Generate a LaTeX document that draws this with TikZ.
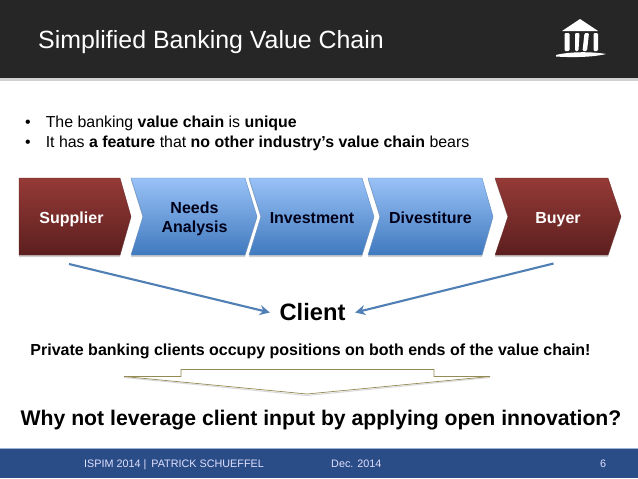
\documentclass[tikz,border=0pt]{standalone}
\usepackage{fontspec}
\setmainfont{Liberation Sans}
\usetikzlibrary{arrows.meta}
\definecolor{hdr}{HTML}{262626}
\definecolor{ftr}{HTML}{2A4D87}
\definecolor{ftrline}{HTML}{9DB4D2}
\definecolor{redtop}{HTML}{953A37}
\definecolor{redbot}{HTML}{5C1F1E}
\definecolor{bluetop}{HTML}{9AC2F7}
\definecolor{bluebot}{HTML}{3F79BE}
\definecolor{bluedge}{HTML}{5F8DC2}
\definecolor{arrowc}{HTML}{4F7FB5}
\definecolor{olive}{HTML}{948A54}
\tikzset{
  x=1pt,y=-1pt,
  redchev/.style={top color=redtop,bottom color=redbot,draw=redtop!70!black,line width=.3pt},
  bluechev/.style={top color=bluetop,bottom color=bluebot,draw=bluedge,line width=.4pt},
  chevshadow/.style={fill=black!18,draw=none},
  whitelabel/.style={anchor=base,text=white,font=\bfseries\fontsize{16}{18}\selectfont,align=center},
  darklabel/.style={anchor=base,text=black!90!blue,font=\bfseries\fontsize{16}{18}\selectfont,align=center},
  bulletline/.style={anchor=base west,font=\fontsize{15.9}{19}\selectfont,inner sep=0pt},
  boldline/.style={anchor=base,inner sep=0pt},
  footertext/.style={anchor=base west,text=white!88!blue,font=\fontsize{10.8}{13}\selectfont,inner sep=0pt},
  linkarrow/.style={draw=arrowc,line width=2.1pt,-{Stealth[length=10pt,width=10pt]}},
}
\begin{document}
\begin{tikzpicture}
\useasboundingbox (0,0) rectangle (638,479);
\fill[white] (0,0) rectangle (638,479);
% header
\fill[black!18] (0,78) rectangle (638,80.5);
\fill[hdr] (0,0) rectangle (638,78);
\node[anchor=base west,inner sep=0pt,text=white,font=\fontsize{24.9}{28}\selectfont] (title) at (38,48.5) {Simplified Banking Value Chain};
% icon
\fill[white] (562,31) -- (580,19) -- (598,31) -- cycle;
\fill[white,rounded corners=1.2pt] (564.5,33) rectangle (569.5,51);
\fill[white,rounded corners=1.2pt] (575,33) -- (579.5,33) -- (578.5,51) -- (575,51) -- cycle;
\fill[white,rounded corners=1.2pt] (584.5,33) -- (589,33) -- (587,51) -- (582.5,51) -- cycle;
\fill[white,rounded corners=1.2pt] (593.5,33) rectangle (598,51);
\fill[white] (556,55) .. controls (570,51.5) and (592,51.5) .. (606,54) .. controls (592,57.5) and (570,57.5) .. (556,56.5) -- cycle;
% bullets
\node[bulletline] (b1) at (25,127.5) {•\hspace{15pt}The banking \textbf{value chain} is \textbf{unique}};
\node[bulletline] (b2) at (25,147) {•\hspace{15pt}It has \textbf{a feature} that \textbf{no other industry’s value chain} bears};
% chevron shadows
\fill[chevshadow] (19,180) -- (120,180) -- (131,218.5) -- (120,257) -- (19,257) -- cycle;
\fill[chevshadow] (131,180) -- (245,180) -- (257,218.5) -- (245,257) -- (131,257) -- (143,218.5) -- cycle;
\fill[chevshadow] (249,180) -- (362,180) -- (374,218.5) -- (362,257) -- (249,257) -- (261,218.5) -- cycle;
\fill[chevshadow] (368,180) -- (482,180) -- (493,218.5) -- (482,257) -- (368,257) -- (380,218.5) -- cycle;
\fill[chevshadow] (495,180) -- (608,180) -- (621,218.5) -- (608,257) -- (495,257) -- (508,218.5) -- cycle;
% chevrons
\path[redchev] (19,178) -- (120,178) -- (131,216.5) -- (120,255) -- (19,255) -- cycle;
\path[bluechev] (131,178) -- (245,178) -- (257,216.5) -- (245,255) -- (131,255) -- (143,216.5) -- cycle;
\path[bluechev] (249,178) -- (362,178) -- (374,216.5) -- (362,255) -- (249,255) -- (261,216.5) -- cycle;
\path[bluechev] (368,178) -- (482,178) -- (493,216.5) -- (482,255) -- (368,255) -- (380,216.5) -- cycle;
\path[redchev] (495,178) -- (608,178) -- (621,216.5) -- (608,255) -- (495,255) -- (508,216.5) -- cycle;
\node[whitelabel] (supplier) at (71.5,223) {Supplier};
\node[darklabel] (needs) at (194.5,213) {Needs};
\node[darklabel] (analysis) at (194.5,232.5) {Analysis};
\node[darklabel] (investment) at (312,223) {Investment};
\node[darklabel] (divestiture) at (430.5,223) {Divestiture};
\node[whitelabel] (buyer) at (558,223) {Buyer};
% client
\node[inner sep=0pt,minimum width=85pt,minimum height=24pt,font=\bfseries\fontsize{23.7}{26}\selectfont] (client) at (312.5,312.5) {Client};
\coordinate (fromsupplier) at (69,264);
\coordinate (frombuyer) at (553.5,263.5);
\draw[linkarrow] (fromsupplier) -- (client.west);
\draw[linkarrow] (frombuyer) -- (client.east);
% statement
\node[boldline,font=\bfseries\fontsize{16}{19}\selectfont] (private) at (310.5,355) {Private banking clients occupy positions on both ends of the value chain!};
% block arrow
\draw[black!15,line width=1pt] (124,377.5) -- (307,395.5) -- (490,377.5);
\draw[olive,fill=white,line width=.7pt,line join=miter] (124,376.5) -- (181,376.5) -- (181,369.5) -- (434,369.5) -- (434,376.5) -- (490,376.5) -- (307,394) -- cycle;
\node[boldline,font=\bfseries\fontsize{21.2}{25}\selectfont] (why) at (321,425) {Why not leverage client input by applying open innovation?};
% footer
\fill[ftr] (0,448) rectangle (638,478);
\draw[ftrline,line width=.8pt] (0,448) -- (638,448);
\node[footertext] (f1) at (84,467) {ISPIM 2014 |\hspace{5pt}PATRICK SCHUEFFEL};
\node[footertext] (f2) at (331,467) {Dec. 2014};
\node[footertext] (f3) at (600,467) {6};
\end{tikzpicture}
\end{document}
